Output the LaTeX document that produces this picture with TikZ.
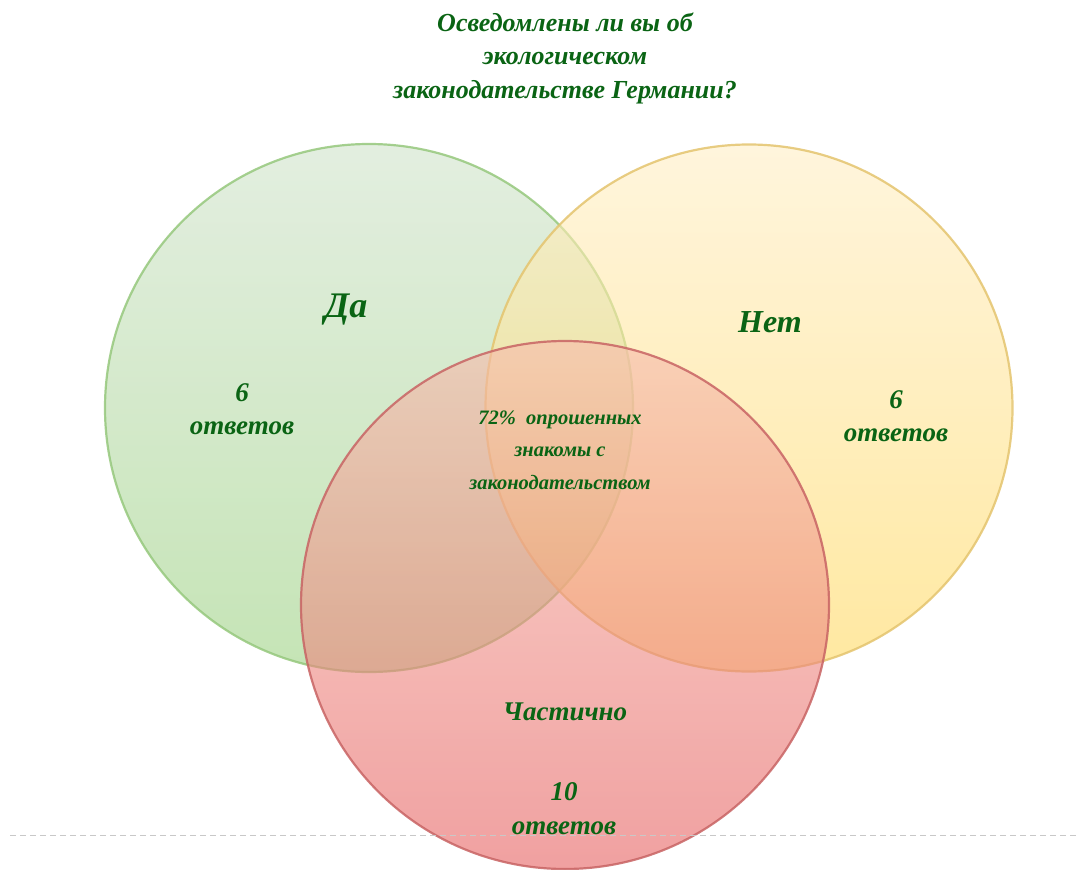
\documentclass[tikz,border=0pt]{standalone}
\usepackage{fontspec}
\setmainfont{Liberation Serif}
\definecolor{txtgreen}{RGB}{10,100,20}
\definecolor{gtop}{RGB}{208,227,203}
\definecolor{gbot}{RGB}{158,210,132}
\definecolor{gline}{RGB}{150,200,125}
\definecolor{ytop}{RGB}{255,238,197}
\definecolor{ybot}{RGB}{255,217,97}
\definecolor{yline}{RGB}{228,196,110}
\definecolor{rtop}{RGB}{247,188,172}
\definecolor{rbot}{RGB}{230,97,97}
\definecolor{rline}{RGB}{200,100,100}
\definecolor{dashgray}{RGB}{200,200,200}
\tikzset{
  vset/.style={line width=2.2pt, fill opacity=0.6, draw opacity=0.85},
  lbl/.style={text=txtgreen, font=\bfseries\itshape, align=center, inner sep=0pt},
  big/.style={lbl, font=\fontsize{36}{40}\selectfont\bfseries\itshape},
  mid/.style={lbl, font=\fontsize{27}{33}\selectfont\bfseries\itshape},
  small/.style={lbl, font=\fontsize{20.5}{32.5}\selectfont\bfseries\itshape},
}
\begin{document}
\begin{tikzpicture}[x=1pt,y=-1pt]
\useasboundingbox (0,0) rectangle (1077,870);
% circles
\coordinate (cg) at (369,408);
\coordinate (cy) at (749,408);
\coordinate (cr) at (565,605);
\shade[vset, draw=gline, top color=gtop, bottom color=gbot] (cg) circle (264);
\shade[vset, draw=yline, top color=ytop, bottom color=ybot] (cy) circle (263.5);
\shade[vset, draw=rline, top color=rtop, bottom color=rbot] (cr) circle (264);
% dashed line
\coordinate (dl) at (10,835);
\coordinate (dr) at (1077,835);
\draw[dashgray, line width=1pt, dash pattern=on 6pt off 4pt] (dl) -- (dr);
% title
\node[lbl, font=\fontsize{26}{33.5}\selectfont\bfseries\itshape] (title) at (565,58)
  {Осведомлены ли вы об\\экологическом\\законодательстве Германии?};
% labels
\node[big] (da) at (346,310) {Да};
\node[mid] (da6) at (242,409) {6\\ответов};
\node[lbl, font=\fontsize{32}{36}\selectfont\bfseries\itshape] (net) at (770,322) {Нет};
\node[mid] (net6) at (896,416) {6\\ответов};
\node[small] (mid72) at (560,450) {72\%\ \ опрошенных\\знакомы с\\законодательством};
\node[mid] (part) at (565,712) {Частично};
\node[mid, font=\fontsize{27}{34}\selectfont\bfseries\itshape] (part10) at (564,809) {10\\ответов};
\end{tikzpicture}
\end{document}
